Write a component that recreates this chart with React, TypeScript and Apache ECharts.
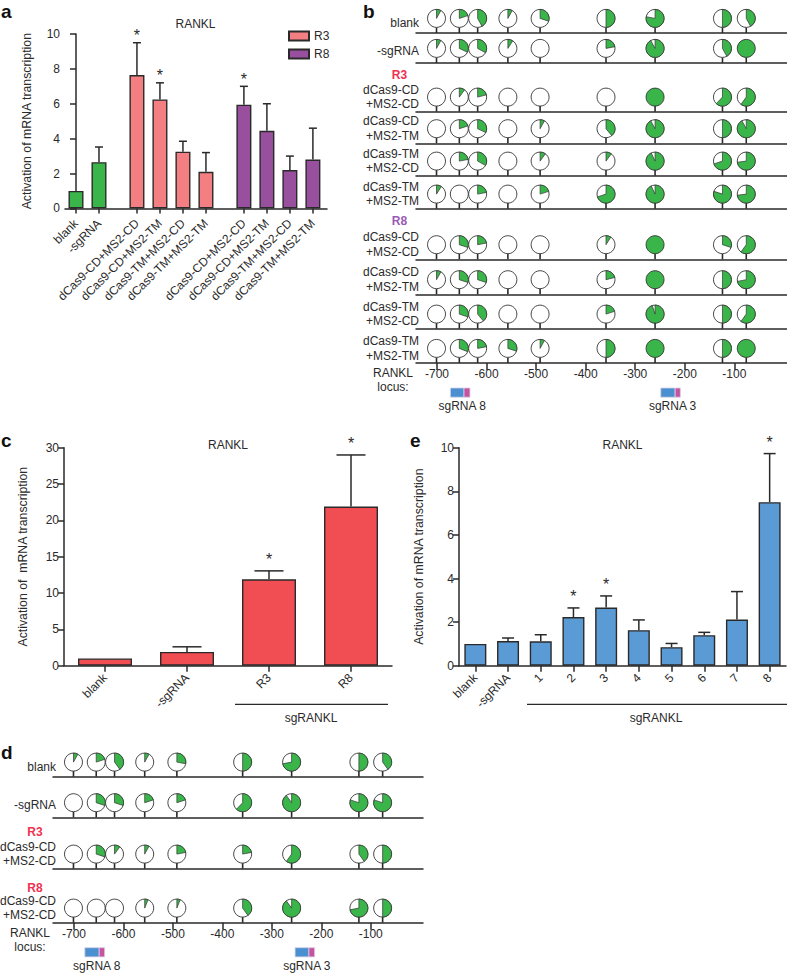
import React, { useEffect, useRef } from "react";
import * as echarts from "echarts";

// ---------- data: panel a ----------
const aCategories = ["blank", "-sgRNA", "dCas9-CD+MS2-CD", "dCas9-CD+MS2-TM", "dCas9-TM+MS2-CD", "dCas9-TM+MS2-TM", "dCas9-CD+MS2-CD", "dCas9-CD+MS2-TM", "dCas9-TM+MS2-CD", "dCas9-TM+MS2-TM"];
const aSlots = [0, 1, 2.65, 3.65, 4.65, 5.65, 7.3, 8.3, 9.3, 10.3];
const aControl = [1, 2.65];
const aR3 = [7.65, 6.25, 3.25, 2.1];
const aR8 = [5.95, 4.45, 2.2, 2.8];
const aErrorTops = [1, 3.52, 9.5, 7.2, 3.85, 3.2, 7.0, 6.0, 3.0, 4.6];
const aStars = [0, 0, 1, 1, 0, 0, 1, 0, 0, 0];

// ---------- data: panel c ----------
const cCategories = ["blank", "-sgRNA", "R3", "R8"];
const cValues = [1, 1.9, 11.9, 21.9];
const cErrorTops = [1, 2.6, 13.05, 29];
const cStars = [0, 0, 1, 1];

// ---------- data: panel e ----------
const eCategories = ["blank", "-sgRNA", "1", "2", "3", "4", "5", "6", "7", "8"];
const eValues = [1, 1.13, 1.12, 2.23, 2.67, 1.63, 0.85, 1.4, 2.12, 7.5];
const eErrorTops = [1, 1.27, 1.42, 2.65, 3.2, 2.1, 1.02, 1.53, 3.4, 9.73];
const eStars = [0, 0, 0, 1, 1, 0, 0, 0, 0, 1];

// ---------- data: methylation lollipops ----------
const loci = [-701, -655, -618, -557, -492, -359, -260, -124, -76];
const locusTicks = [-700, -600, -500, -400, -300, -200, -100];

const bBlank = [0.08, 0.2, 0.42, 0.08, 0.3, 0.5, 0.78, 0.5, 0.42];
const bNoGuide = [0.08, 0.32, 0.33, 0.09, 0, 0.22, 0.92, 0.42, 1];
const bR3CdCd = [0, 0.1, 0.21, 0, 0, 0, 1, 0.62, 0.6];
const bR3CdTm = [0, 0.2, 0.32, 0, 0.08, 0.39, 0.92, 0.5, 0.92];
const bR3TmCd = [0, 0.22, 0.33, 0, 0.1, 0.1, 0.93, 0.7, 0.73];
const bR3TmTm = [0.09, 0, 0.22, 0, 0.2, 0.7, 0.93, 0.8, 0.73];
const bR8CdCd = [0, 0.3, 0.22, 0, 0, 0.09, 1, 0.3, 0.6];
const bR8CdTm = [0.08, 0.3, 0.3, 0, 0, 0.21, 1, 0.5, 0.72];
const bR8TmCd = [0, 0.3, 0.39, 0, 0, 0.2, 0.95, 0.5, 0.6];
const bR8TmTm = [0, 0.31, 0.22, 0.3, 0.08, 0.5, 1, 0.5, 1];

const dBlank = [0.08, 0.2, 0.4, 0.08, 0.28, 0.5, 0.72, 0.5, 0.4];
const dNoGuide = [0, 0.3, 0.3, 0.2, 0.2, 0.62, 0.9, 0.8, 0.8];
const dR3 = [0, 0.3, 0.1, 0.08, 0.22, 0.22, 0.6, 0.4, 0.5];
const dR8 = [0, 0, 0, 0.06, 0.06, 0.4, 0.9, 0.72, 0.5];

const CD_CD = ["dCas9-CD", "+MS2-CD"];
const CD_TM = ["dCas9-CD", "+MS2-TM"];
const TM_CD = ["dCas9-TM", "+MS2-CD"];
const TM_TM = ["dCas9-TM", "+MS2-TM"];

const bRowLabels = [["blank"], ["-sgRNA"], CD_CD, CD_TM, TM_CD, TM_TM, CD_CD, CD_TM, TM_CD, TM_TM];
const bRowValues = [bBlank, bNoGuide, bR3CdCd, bR3CdTm, bR3TmCd, bR3TmTm, bR8CdCd, bR8CdTm, bR8TmCd, bR8TmTm];
const dRowLabels = [["blank"], ["-sgRNA"], CD_CD, CD_CD];
const dRowValues = [dBlank, dNoGuide, dR3, dR8];

const bGuides = [
  { name: "sgRNA 8", span: [-673, -645.5, -633.5] },
  { name: "sgRNA 3", span: [-248.5, -219.5, -209] },
];
const dGuides = [
  { name: "sgRNA 8", span: [-678, -649, -638] },
  { name: "sgRNA 3", span: [-253, -225, -213.5] },
];

// ---------- layout and style ----------
const FONT = '"Liberation Sans", Arial, sans-serif';
const INK = "#2a2a2a";
const GREEN = "#39b54a";
const PINK = "#f47f83";
const PURPLE = "#984f9d";
const RED = "#f14e54";
const BLUE = "#5b9bd5";
const GUIDE_BLUE = "#4a90d0";
const GUIDE_PINK = "#c6539f";
const bBaselines = [33, 63, 111.7, 143.3, 175.7, 208.7, 259.3, 294.3, 328.7, 363];
const dBaselines = [776.7, 817.3, 868.7, 922.7];
const LOCUS_MIN = -742.4;
const LOCUS_MAX = 5.6;

const axisLine = { show: true, lineStyle: { color: INK, width: 1.5 } };
const axisTick = { show: true, length: 6, lineStyle: { color: INK, width: 1.5 } };
const tickText = { color: INK, fontFamily: FONT, fontSize: 12 };

function errorSeries(name: string, axis: number, xs: number[], values: number[], tops: number[], stars: number[], cap: number, starGap: number) {
  return {
    type: "custom",
    name,
    xAxisIndex: axis,
    yAxisIndex: axis,
    z: 4,
    silent: true,
    encode: { x: 0, y: 2 },
    data: xs.map((x, i) => [x, values[i], tops[i], stars[i]]),
    renderItem: (_: any, api: any) => {
      const x = api.value(0);
      const base = api.coord([x, api.value(1)]);
      const top = api.coord([x, api.value(2)]);
      const children: any[] = [];
      const line = { stroke: INK, lineWidth: 1.5 };
      if (top[1] < base[1] - 0.5) {
        children.push({ type: "line", shape: { x1: base[0], y1: base[1], x2: top[0], y2: top[1] }, style: line });
        children.push({ type: "line", shape: { x1: top[0] - cap / 2, y1: top[1], x2: top[0] + cap / 2, y2: top[1] }, style: line });
      }
      if (api.value(3)) {
        children.push({
          type: "text",
          style: {
            text: "*", x: top[0], y: top[1] - starGap, fill: INK, font: `16px ${FONT}`,
            align: "center", verticalAlign: "middle", textAlign: "center", textVerticalAlign: "middle",
          },
        });
      }
      return { type: "group", children };
    },
  };
}

function barStyle(color: string) {
  return { color, borderColor: INK, borderWidth: 1.4 };
}

function lollipopSeries(axis: number, values: number[]) {
  return {
    type: "custom",
    xAxisIndex: axis,
    yAxisIndex: axis,
    silent: true,
    z: 3,
    encode: { x: 0 },
    data: loci.map((l, i) => [l, values[i]]),
    renderItem: (_: any, api: any) => {
      const p = api.coord([api.value(0), 0]);
      const f = api.value(1);
      const r = 9;
      const cy = p[1] - 14.6;
      const border = { stroke: "#333", lineWidth: 0.9 };
      const children: any[] = [
        { type: "line", shape: { x1: p[0], y1: p[1], x2: p[0], y2: cy + r }, style: { stroke: INK, lineWidth: 1.6 } },
        { type: "circle", shape: { cx: p[0], cy, r }, style: { fill: f >= 1 ? GREEN : "#fff", ...border } },
      ];
      if (f > 0 && f < 1) {
        children.push({
          type: "sector",
          shape: { cx: p[0], cy, r, r0: 0, startAngle: -Math.PI / 2, endAngle: -Math.PI / 2 + 2 * Math.PI * f, clockwise: true },
          style: { fill: GREEN, stroke: "#333", lineWidth: 0.7 },
        });
      }
      return { type: "group", children };
    },
  };
}

function guideSeries(axis: number, guides: { name: string; span: number[] }[]) {
  return {
    type: "custom",
    xAxisIndex: axis,
    yAxisIndex: axis,
    silent: true,
    encode: { x: 0 },
    data: guides.map((g) => [g.span[0], g.span[1], g.span[2], g.name]),
    dimensions: [{ name: "a", type: "number" }, { name: "b", type: "number" }, { name: "c", type: "number" }, { name: "n", type: "ordinal" }],
    renderItem: (params: any, api: any) => {
      const g = guides[params.dataIndex];
      const a = api.coord([g.span[0], 0]);
      const b = api.coord([g.span[1], 0]);
      const c = api.coord([g.span[2], 0]);
      const top = a[1] + 25;
      const edge = { stroke: "#d9cfe6", lineWidth: 0.8 };
      return {
        type: "group",
        children: [
          { type: "rect", shape: { x: a[0], y: top, width: b[0] - a[0], height: 9.2 }, style: { fill: GUIDE_BLUE, ...edge } },
          { type: "rect", shape: { x: b[0], y: top, width: c[0] - b[0], height: 9.2 }, style: { fill: GUIDE_PINK, ...edge } },
          {
            type: "text",
            style: {
              text: g.name, x: (a[0] + c[0]) / 2 + 2, y: a[1] + 43, fill: INK, font: `12px ${FONT}`,
              align: "center", verticalAlign: "middle", textAlign: "center", textVerticalAlign: "middle",
            },
          },
        ],
      };
    },
  };
}

function txt(text: string, x: number, y: number, align = "center", extra: any = {}) {
  return {
    type: "text",
    x,
    y,
    silent: true,
    style: { text, fill: INK, font: `12px ${FONT}`, textAlign: align, textVerticalAlign: "middle", align, verticalAlign: "middle", ...extra },
  };
}

function rowLabelGraphics(labels: string[][], baselines: number[], right: number) {
  const out: any[] = [];
  labels.forEach((lines, i) => {
    if (lines.length === 2) {
      out.push(txt(lines[0], right, baselines[i] - 22, "right"));
      out.push(txt(lines[1], right, baselines[i] - 7.3, "right"));
    } else {
      out.push(txt(lines[0], right, baselines[i] - (i === 0 ? 10 : 12.5), "right"));
    }
  });
  return out;
}

function bigLetter(text: string, x: number, y: number) {
  return txt(text, x, y, "left", { font: `bold 19px ${FONT}`, fill: "#111" });
}

function makeOption() {
  const grids: any[] = [
    { left: 65, top: 34, width: 262, height: 174.4 },
    { left: 64, top: 447.7, width: 328, height: 218 },
    { left: 459, top: 447.7, width: 327, height: 218 },
  ];
  const xAxes: any[] = [
    {
      gridIndex: 0, type: "value", min: -0.478, max: 10.913, splitLine: { show: false },
      axisLine, axisTick: { ...axisTick, length: 5, customValues: aSlots },
      axisLabel: {
        ...tickText, rotate: 45, margin: 13, align: "right", verticalAlign: "middle", customValues: aSlots,
        formatter: (v: number) => aCategories[aSlots.indexOf(v)] ?? "",
      },
    },
    {
      gridIndex: 1, type: "category", data: cCategories, axisLine,
      axisTick: { ...axisTick, alignWithLabel: true },
      axisLabel: { ...tickText, rotate: 45, margin: 10, interval: 0 },
    },
    {
      gridIndex: 2, type: "category", data: eCategories, axisLine,
      axisTick: { ...axisTick, alignWithLabel: true },
      axisLabel: { ...tickText, rotate: 45, margin: 10, interval: 0 },
    },
  ];
  const yBase = {
    type: "value", min: 0, axisLine, axisTick, splitLine: { show: false }, nameLocation: "middle",
    nameTextStyle: { ...tickText, fontSize: 12.3 }, axisLabel: { ...tickText, margin: 5 },
  };
  const yAxes: any[] = [
    { ...yBase, gridIndex: 0, max: 10, interval: 2, name: "Activation of mRNA transcription", nameGap: 32 },
    { ...yBase, gridIndex: 1, max: 30, interval: 5, name: "Activation of  mRNA transcription", nameGap: 35 },
    { ...yBase, gridIndex: 2, max: 10, interval: 2, name: "Activation of mRNA transcription", nameGap: 34 },
  ];
  const series: any[] = [
    {
      type: "bar", name: "control", xAxisIndex: 0, yAxisIndex: 0, barWidth: 15, barGap: "-100%", itemStyle: barStyle(GREEN),
      data: aControl.map((v, i) => [aSlots[i], v]),
    },
    {
      type: "bar", name: "R3", xAxisIndex: 0, yAxisIndex: 0, barWidth: 15, barGap: "-100%", itemStyle: barStyle(PINK),
      data: aR3.map((v, i) => [aSlots[i + 2], v]),
    },
    {
      type: "bar", name: "R8", xAxisIndex: 0, yAxisIndex: 0, barWidth: 15, barGap: "-100%", itemStyle: barStyle(PURPLE),
      data: aR8.map((v, i) => [aSlots[i + 6], v]),
    },
    errorSeries("a-error", 0, aSlots, [...aControl, ...aR3, ...aR8], aErrorTops, aStars, 8, 7),
    { type: "bar", name: "c", xAxisIndex: 1, yAxisIndex: 1, barWidth: 54, itemStyle: barStyle(RED), data: cValues },
    errorSeries("c-error", 1, cCategories.map((_, i) => i), cValues, cErrorTops, cStars, 29, 11),
    { type: "bar", name: "e", xAxisIndex: 2, yAxisIndex: 2, barWidth: 22, itemStyle: barStyle(BLUE), data: eValues },
    errorSeries("e-error", 2, eCategories.map((_, i) => i), eValues, eErrorTops, eStars, 12, 11),
  ];

  const addRows = (values: number[][], baselines: number[], left: number, width: number, guides: any[]) => {
    values.forEach((vals, i) => {
      const idx = grids.length;
      const last = i === values.length - 1;
      grids.push({ left, width, top: baselines[i] - 30, height: 30 });
      xAxes.push({
        gridIndex: idx, type: "value", min: LOCUS_MIN, max: LOCUS_MAX, splitLine: { show: false }, axisLine,
        axisTick: { show: last, length: 7, customValues: locusTicks, lineStyle: { color: INK, width: 1.5 } },
        axisLabel: { show: last, ...tickText, margin: 5, customValues: locusTicks, formatter: (v: number) => String(v) },
      });
      yAxes.push({ gridIndex: idx, type: "value", min: 0, max: 1, show: false });
      series.push(lollipopSeries(idx, vals));
      if (last) series.push(guideSeries(idx, guides));
    });
  };
  addRows(bRowValues, bBaselines, 416, 370.7, bGuides);
  addRows(dRowValues, dBaselines, 53, 370, dGuides);

  const sgLine = (x1: number, x2: number, y: number) => ({
    type: "line", silent: true, shape: { x1, y1: y, x2, y2: y }, style: { stroke: INK, lineWidth: 1.3 },
  });

  const graphic: any[] = [
    bigLetter("a", 1, 11),
    bigLetter("b", 363, 11),
    bigLetter("c", 1, 440),
    bigLetter("d", 1, 752),
    bigLetter("e", 410, 440),
    txt("RANKL", 195.5, 24),
    txt("RANKL", 228, 444.5),
    txt("RANKL", 622.5, 444.5),
    sgLine(235, 388, 704.3),
    txt("sgRANKL", 311, 717.5),
    sgLine(527, 787, 704.3),
    txt("sgRANKL", 656, 717.5),
    ...rowLabelGraphics(bRowLabels, bBaselines, 419),
    ...rowLabelGraphics(dRowLabels, dBaselines, 56),
    txt("R3", 399.5, 74.5, "center", { font: `bold 12px ${FONT}`, fill: "#f0304f" }),
    txt("R8", 399.5, 221, "center", { font: `bold 12px ${FONT}`, fill: "#9b59b6" }),
    txt("R3", 35, 831.7, "center", { font: `bold 12px ${FONT}`, fill: "#f0304f" }),
    txt("R8", 35, 887.7, "center", { font: `bold 12px ${FONT}`, fill: "#f0304f" }),
    txt("RANKL", 393, 373),
    txt("locus:", 393, 387),
    txt("RANKL", 30, 933),
    txt("locus:", 30, 947),
  ];

  return {
    animation: false,
    backgroundColor: "#fff",
    textStyle: { fontFamily: FONT },
    legend: {
      data: ["R3", "R8"], orient: "vertical", left: 288, top: 30, padding: 0, itemWidth: 20, itemHeight: 9, itemGap: 6,
      selectedMode: false, textStyle: { ...tickText }, icon: "rect",
    },
    grid: grids,
    xAxis: xAxes,
    yAxis: yAxes,
    series,
    graphic,
  };
}

export default function App() {
  const ref = useRef<HTMLDivElement>(null);
  useEffect(() => {
    document.body.style.margin = "0";
    const chart = echarts.init(ref.current!, undefined, { renderer: "svg" });
    chart.setOption(makeOption() as any);
    return () => chart.dispose();
  }, []);
  return <div ref={ref} style={{ width: 787, height: 974 }} />;
}
